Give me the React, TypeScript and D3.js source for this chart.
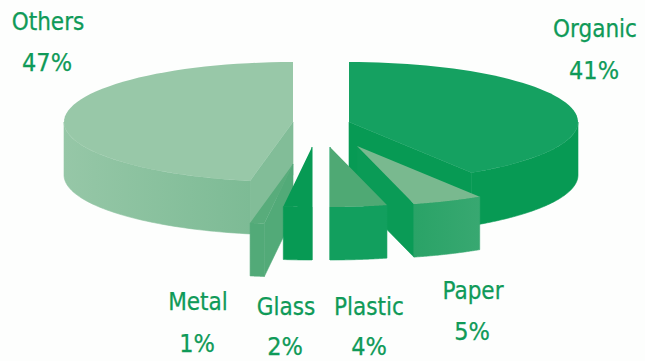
import React from "react";
import * as d3 from "d3";

const categories = ["Organic", "Paper", "Plastic", "Glass", "Metal", "Others"];
const shares = [41, 5, 4, 2, 1, 47];

const WIDTH = 645;
const HEIGHT = 361;
const RX = 229;
const RY = 60;
const DEPTH = 53;
const INK = "#0f9a58";

type Look = { cx: number; cy: number; top: string; wall: [string, string]; cut: string; name: [number, number]; pct: [number, number] };

// Where each exploded wedge sits, how it is coloured, and where its caption goes.
const looks: Record<string, Look> = {
  Organic: { cx: 349, cy: 122, top: "#15a161", wall: ["#079a54", "#079a54"], cut: "#079a54", name: [595, 37], pct: [594, 79] },
  Paper: { cx: 357, cy: 146, top: "#79b98f", wall: ["#2aa367", "#38a871"], cut: "#0a9b56", name: [473, 299], pct: [472, 340] },
  Plastic: { cx: 330, cy: 147, top: "#4fa974", wall: ["#129f5e", "#129f5e"], cut: "#129f5e", name: [369, 315], pct: [369, 355] },
  Glass: { cx: 312, cy: 147, top: "#079a54", wall: ["#079a54", "#079a54"], cut: "#079a54", name: [286, 315], pct: [285, 355] },
  Metal: { cx: 293, cy: 164, top: "#58ac7b", wall: ["#52aa78", "#52aa78"], cut: "#52aa78", name: [198, 310], pct: [197, 352] },
  Others: { cx: 293, cy: 122, top: "#98c8a8", wall: ["#96c7a7", "#7dbb95"], cut: "#82bd98", name: [48, 30], pct: [47, 71] },
};

const pie = d3.pie<number>().sort(null).startAngle(0).endAngle(2 * Math.PI);
const wedges = pie(shares);
const paintOrder = ["Others", "Metal", "Organic", "Paper", "Plastic", "Glass"];

const rim = (a: number, l: Look, drop = 0): [number, number] => [
  l.cx + RX * Math.sin(a),
  l.cy - RY * Math.cos(a) + drop,
];
const samples = (a0: number, a1: number) =>
  d3.range(0, 61).map((i) => d3.interpolateNumber(a0, a1)(i / 60));
const outline = d3.line().curve(d3.curveLinear);

export default function App() {
  return (
    <svg
      width={WIDTH}
      height={HEIGHT}
      viewBox={`0 0 ${WIDTH} ${HEIGHT}`}
      style={{ position: "absolute", left: 0, top: 0, background: "#fdfefd" }}
      fontFamily="'DejaVu Sans Condensed', 'DejaVu Sans', sans-serif"
    >
      <defs>
        {categories.map((c) => (
          <linearGradient key={c} id={`wall-${c}`} x1="0" x2="1" y1="0" y2="0">
            <stop offset="0" stopColor={looks[c].wall[0]} />
            <stop offset="1" stopColor={looks[c].wall[1]} />
          </linearGradient>
        ))}
      </defs>
      {paintOrder.map((c) => {
        const w = wedges[categories.indexOf(c)];
        const l = looks[c];
        const a0 = w.startAngle;
        const a1 = w.endAngle;
        const apex: [number, number] = [l.cx, l.cy];
        const topEdge = samples(a0, a1).map((a) => rim(a, l));
        // Outer wall: only the part of the rim that faces the viewer.
        const w0 = Math.max(a0, Math.PI / 2);
        const w1 = Math.min(a1, (3 * Math.PI) / 2);
        const upper = samples(w0, w1).map((a) => rim(a, l));
        const lower = samples(w0, w1).map((a) => rim(a, l, DEPTH)).reverse();
        // Radial cut face: whichever straight edge turns toward the front.
        const cutAngle = a1 <= Math.PI ? a1 : a0;
        const cutFace: [number, number][] = [
          apex,
          rim(cutAngle, l),
          rim(cutAngle, l, DEPTH),
          [l.cx, l.cy + DEPTH],
        ];
        // A hairline in each face's own colour closes the seams between faces.
        return (
          <g key={c} strokeWidth={0.6} strokeLinejoin="round">
            <path d={`${outline(cutFace)}Z`} fill={l.cut} stroke={l.cut} />
            <path d={`${outline([...upper, ...lower])}Z`} fill={`url(#wall-${c})`} stroke={`url(#wall-${c})`} />
            <path d={`${outline([apex, ...topEdge])}Z`} fill={l.top} />
          </g>
        );
      })}
      {categories.map((c, i) => (
        <g key={c} fill={INK} stroke={INK} strokeWidth={0.25} textAnchor="middle">
          <text x={looks[c].name[0]} y={looks[c].name[1]} fontSize={24}>{c}</text>
          <text x={looks[c].pct[0]} y={looks[c].pct[1]} fontSize={25}>{shares[i]}%</text>
        </g>
      ))}
    </svg>
  );
}
